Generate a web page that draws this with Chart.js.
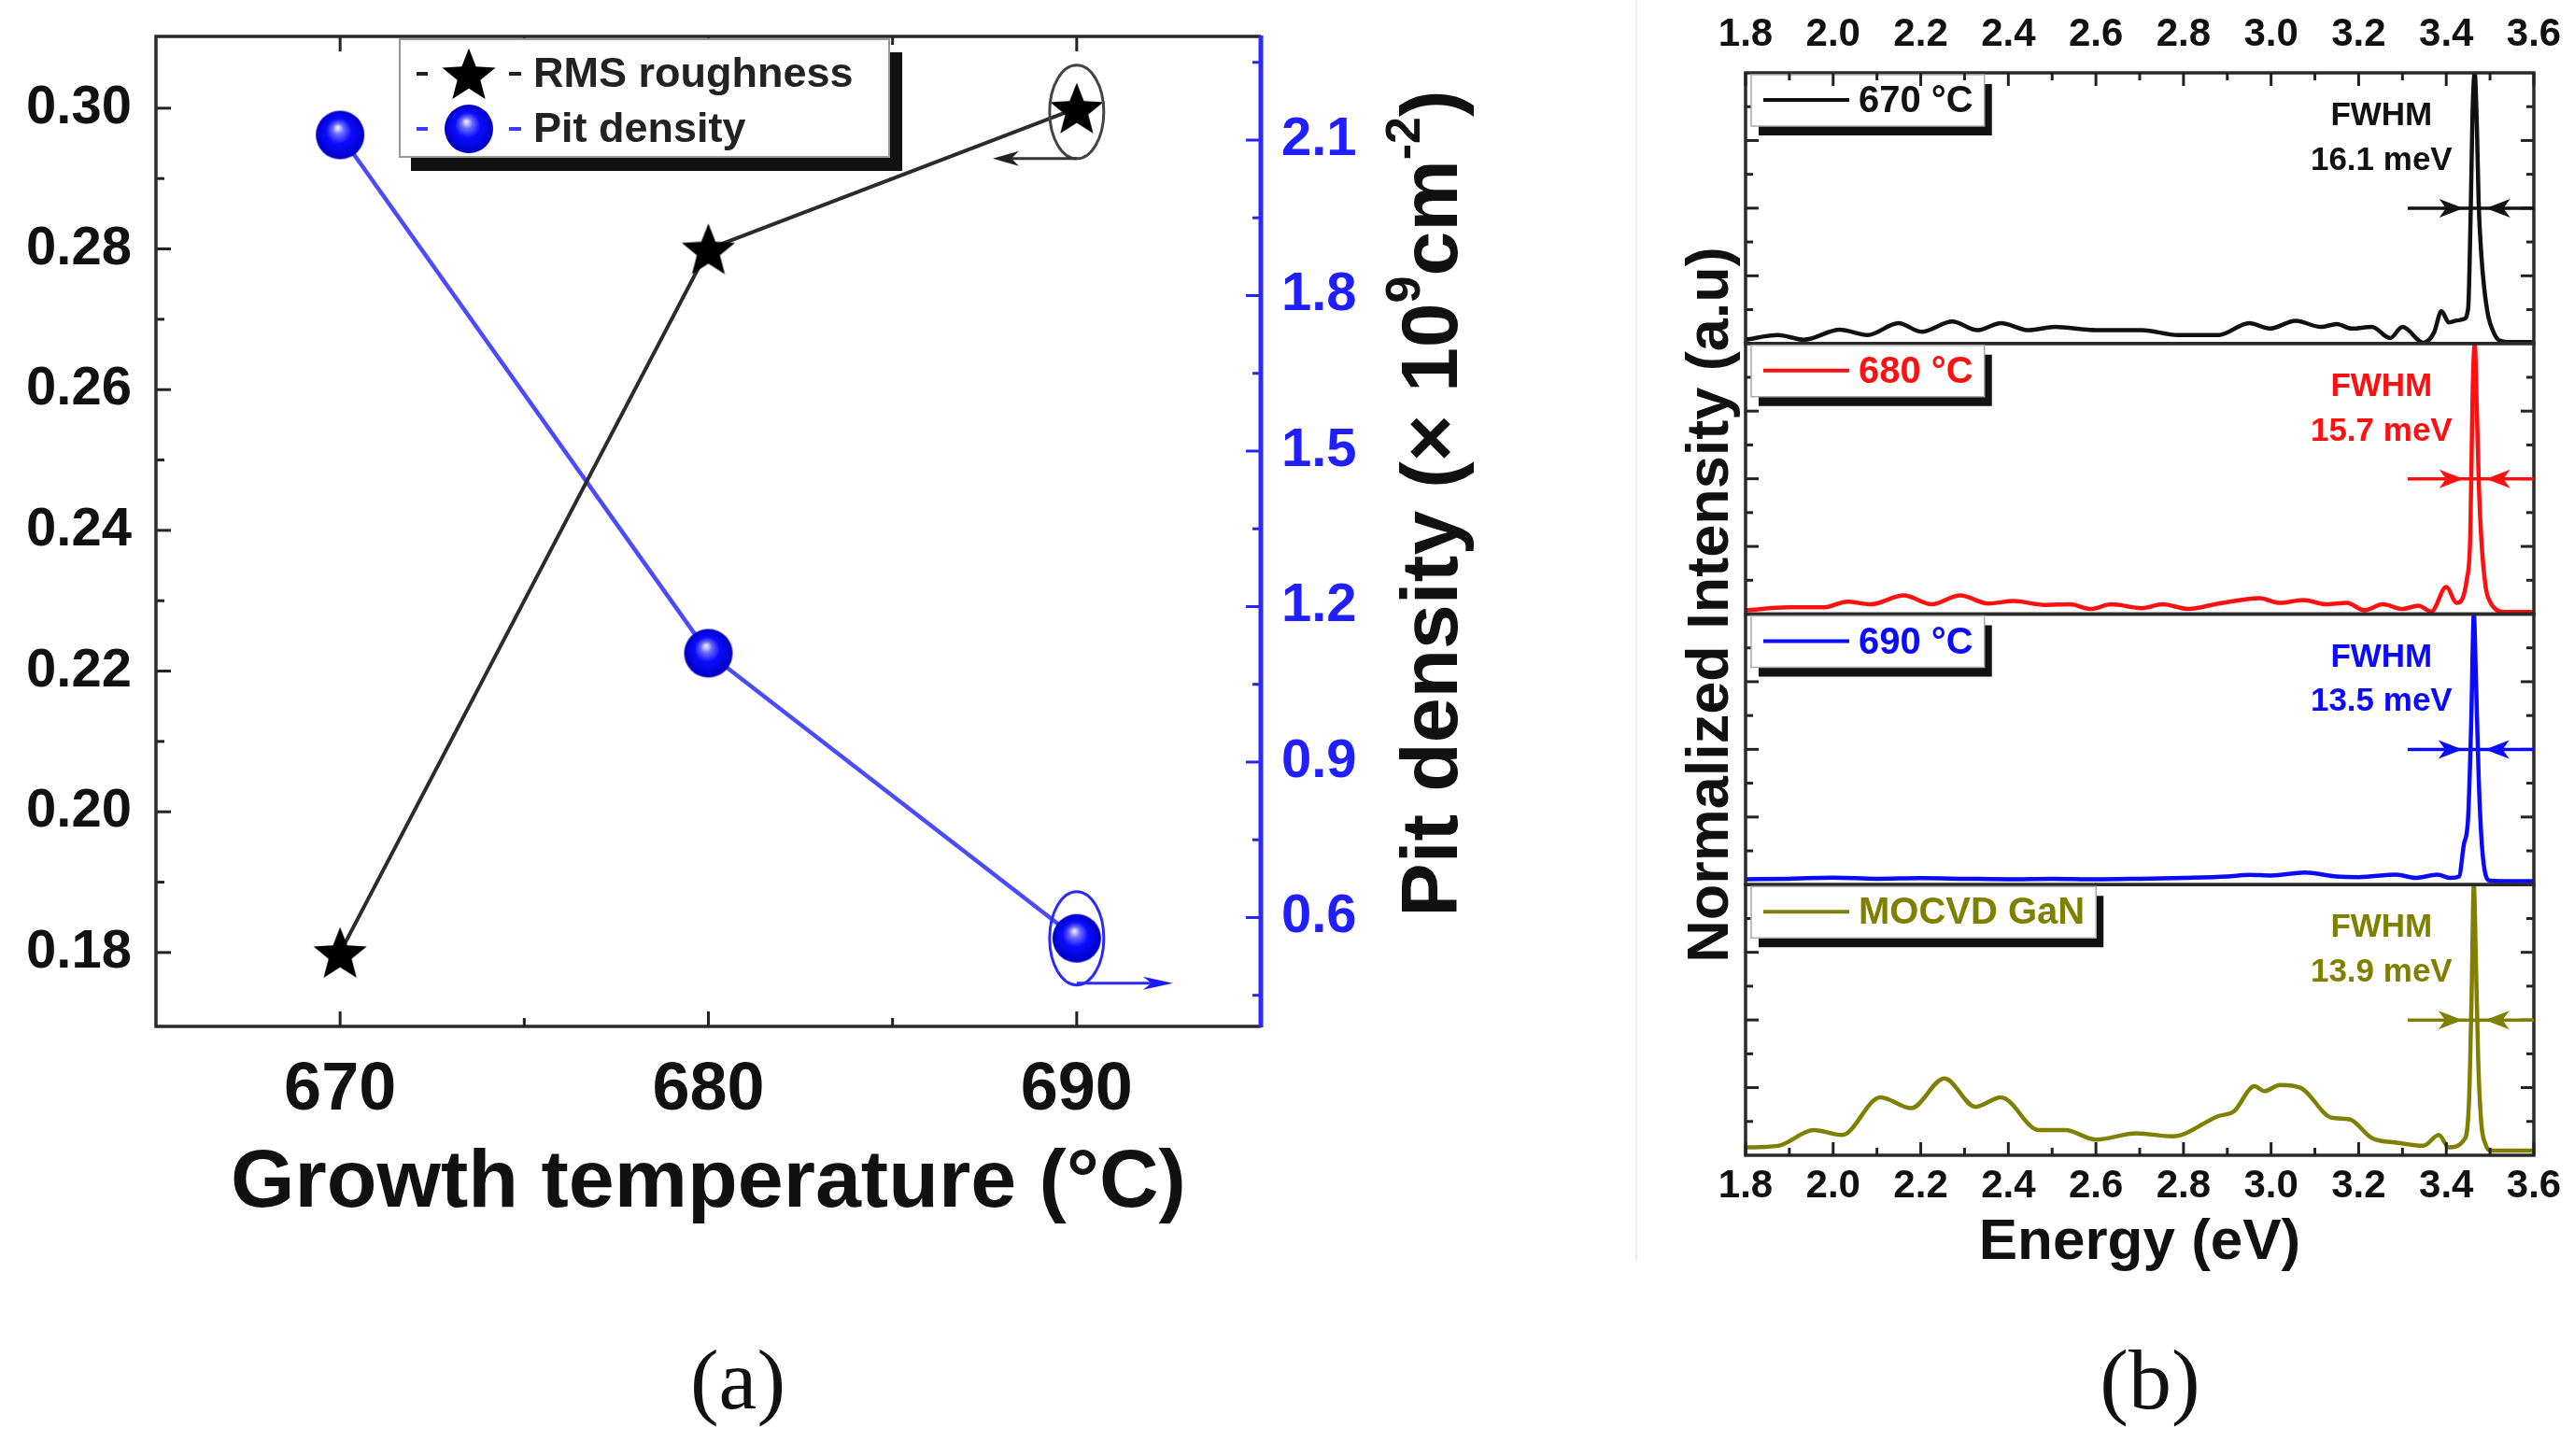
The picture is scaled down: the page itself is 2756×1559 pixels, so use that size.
<!DOCTYPE html>
<html><head><meta charset="utf-8">
<script src="https://cdn.jsdelivr.net/npm/chart.js@4.4.1/dist/chart.umd.min.js"></script>
<style>
html,body{margin:0;padding:0;background:#fff;}
body{width:2756px;height:1559px;position:relative;overflow:hidden;}
#wa{position:absolute;left:0;top:0;width:1700px;height:1340px;}
#wb{position:absolute;left:1700px;top:0;width:1056px;height:1400px;}
#sep{position:absolute;left:1751px;top:0;width:2px;height:1350px;background:#ededed;}
.cap{position:absolute;top:1427px;width:300px;text-align:center;font-family:'Liberation Serif','DejaVu Serif',serif;font-size:92px;line-height:100px;color:#111;}
</style></head><body>
<div id="wa"><canvas id="ca"></canvas></div>
<div id="sep"></div>
<div id="wb"><canvas id="cb"></canvas></div>
<div class="cap" style="left:640px">(a)</div>
<div class="cap" style="left:2152px">(b)</div>
<script>
// ---------------- Panel (a) data ----------------
const temps = [670, 680, 690];
const rmsRoughness = [0.18, 0.28, 0.30];
const pitDensity = [2.11, 1.11, 0.56];
const tempTicks = [670, 680, 690];
const tempMinorTicks = [675, 685];
const rmsTicks = [0.18, 0.20, 0.22, 0.24, 0.26, 0.28, 0.30];
const rmsMinorTicks = [0.19, 0.21, 0.23, 0.25, 0.27, 0.29];
const pitTicks = [0.6, 0.9, 1.2, 1.5, 1.8, 2.1];
const pitMinorTicks = [0.45, 0.75, 1.05, 1.35, 1.65, 1.95, 2.25];

// ---------------- Panel (b) data ----------------
const energyTicks = [1.8, 2.0, 2.2, 2.4, 2.6, 2.8, 3.0, 3.2, 3.4, 3.6];
const energyMinorTicks = [1.9, 2.1, 2.3, 2.5, 2.7, 2.9, 3.1, 3.3, 3.5];
const intensityTicks = [0.25, 0.5, 0.75];
const intensityMinorTicks = [0.125, 0.375, 0.625, 0.875];

const e670 = [1.80,1.874,1.933,2.015,2.079,2.149,2.202,2.272,2.33,2.383,2.447,2.506,2.60,2.705,2.787,2.88,2.95,2.997,3.056,3.114,3.15,3.184,3.23,3.272,3.30,3.348,3.372,3.389,3.406,3.425,3.44,3.45,3.456,3.46,3.465,3.47,3.474,3.48,3.487,3.496,3.507,3.52,3.55,3.60];
const i670 = [0.014,0.031,0.014,0.051,0.031,0.075,0.043,0.081,0.049,0.075,0.049,0.061,0.049,0.049,0.031,0.031,0.075,0.055,0.084,0.061,0.072,0.055,0.061,0.02,0.061,0.003,0.04,0.119,0.078,0.085,0.09,0.13,0.5,0.85,1.0,0.8,0.52,0.33,0.2,0.1,0.045,0.012,0.005,0.005];

const e680 = [1.80,1.898,1.98,2.032,2.085,2.161,2.225,2.29,2.354,2.412,2.482,2.541,2.588,2.635,2.705,2.752,2.81,2.88,2.974,3.02,3.073,3.126,3.173,3.213,3.255,3.30,3.336,3.366,3.40,3.424,3.447,3.455,3.46,3.465,3.47,3.474,3.48,3.49,3.50,3.512,3.53,3.60];
const i680 = [0.014,0.025,0.025,0.046,0.036,0.069,0.036,0.069,0.039,0.048,0.034,0.036,0.019,0.036,0.022,0.036,0.019,0.039,0.059,0.041,0.052,0.036,0.041,0.014,0.036,0.019,0.031,0.009,0.10,0.041,0.129,0.3,0.8,1.0,0.75,0.5,0.28,0.1,0.045,0.019,0.008,0.008];

const e690 = [1.80,1.90,2.00,2.10,2.20,2.30,2.40,2.50,2.60,2.70,2.80,2.90,2.95,3.00,3.077,3.15,3.20,3.286,3.33,3.38,3.41,3.429,3.44,3.45,3.457,3.463,3.468,3.474,3.48,3.488,3.50,3.55,3.60];
const i690 = [0.02,0.022,0.026,0.022,0.024,0.022,0.02,0.022,0.02,0.022,0.025,0.03,0.036,0.034,0.045,0.03,0.028,0.037,0.025,0.037,0.025,0.03,0.147,0.25,0.6,1.0,0.75,0.4,0.18,0.05,0.015,0.013,0.013];

const eMOCVD = [1.80,1.874,1.956,2.02,2.108,2.178,2.254,2.325,2.383,2.47,2.53,2.60,2.693,2.775,2.88,2.915,2.962,2.985,3.02,3.068,3.138,3.179,3.23,3.29,3.348,3.383,3.406,3.441,3.452,3.458,3.463,3.468,3.473,3.48,3.49,3.50,3.60];
const iMOCVD = [0.029,0.035,0.093,0.075,0.214,0.174,0.284,0.179,0.214,0.093,0.093,0.058,0.081,0.07,0.145,0.162,0.255,0.237,0.26,0.249,0.139,0.133,0.064,0.046,0.035,0.075,0.029,0.058,0.2,0.6,1.0,0.7,0.35,0.12,0.04,0.017,0.017];

const spectraLabels = ['670 \u00B0C', '680 \u00B0C', '690 \u00B0C', 'MOCVD GaN'];
const spectraColors = ['#111111', '#ff1010', '#0a0aff', '#808000'];
const fwhmValues = ['16.1 meV', '15.7 meV', '13.5 meV', '13.9 meV'];
const peakEnergies = [3.465, 3.465, 3.463, 3.463];

// ---------------- helpers ----------------
const FONT = "'Liberation Sans', Arial, Helvetica, sans-serif";
Chart.defaults.font.family = FONT;
Chart.defaults.color = '#111';

function makeStar(R, r, color) {
  const s = Math.ceil(2 * R + 4);
  const c = document.createElement('canvas'); c.width = s; c.height = s;
  const g = c.getContext('2d');
  g.translate(s / 2, s / 2 + R * 0.095);
  g.beginPath();
  for (let k = 0; k < 10; k++) {
    const ang = -Math.PI / 2 + k * Math.PI / 5;
    const rr = (k % 2) ? r : R;
    g.lineTo(rr * Math.cos(ang), rr * Math.sin(ang));
  }
  g.closePath(); g.fillStyle = color; g.fill();
  return c;
}
function makeSphere(r) {
  const s = Math.ceil(2 * r + 4);
  const c = document.createElement('canvas'); c.width = s; c.height = s;
  const g = c.getContext('2d');
  const cx = s / 2, cy = s / 2;
  const grad = g.createRadialGradient(cx - r * 0.1, cy - r * 0.3, r * 0.04, cx, cy, r);
  grad.addColorStop(0, '#e4e4ff');
  grad.addColorStop(0.2, '#6a6aff');
  grad.addColorStop(0.5, '#0c0cff');
  grad.addColorStop(1, '#0000c4');
  g.fillStyle = grad; g.beginPath(); g.arc(cx, cy, r, 0, Math.PI * 2); g.fill();
  return c;
}
const starImg = makeStar(30, 13, '#000');
const sphereImg = makeSphere(26);

function seg(ctx, x1, y1, x2, y2) { ctx.beginPath(); ctx.moveTo(x1, y1); ctx.lineTo(x2, y2); ctx.stroke(); }
function arrowHead(ctx, tx, ty, dir, len, hw) {
  ctx.beginPath();
  ctx.moveTo(tx, ty);
  ctx.lineTo(tx - dir * len, ty - hw);
  ctx.lineTo(tx - dir * len * 0.72, ty);
  ctx.lineTo(tx - dir * len, ty + hw);
  ctx.closePath(); ctx.fill();
}
const setTicks = arr => s => { s.ticks = arr.map(v => ({ value: v })); };
const fitW = w => s => { s.width = w; s.paddingTop = 0; s.paddingBottom = 0; };
const fitH = h => s => { s.height = h; s.paddingLeft = 0; s.paddingRight = 0; };

// ---------------- Panel (a) plugin ----------------
const plugA = {
  id: 'plugA',
  afterDraw(chart) {
    const { ctx, chartArea: a, scales } = chart;
    const xs = scales.x, yl = scales.y, yr = scales.y2;
    ctx.save();
    ctx.lineCap = 'butt';
    // ticks
    ctx.strokeStyle = '#222'; ctx.lineWidth = 3;
    rmsTicks.forEach(v => { const p = yl.getPixelForValue(v); seg(ctx, a.left, p, a.left + 16, p); });
    rmsMinorTicks.forEach(v => { const p = yl.getPixelForValue(v); seg(ctx, a.left, p, a.left + 9, p); });
    tempTicks.forEach(v => { const p = xs.getPixelForValue(v); seg(ctx, p, a.bottom, p, a.bottom - 16); seg(ctx, p, a.top, p, a.top + 16); });
    tempMinorTicks.forEach(v => { const p = xs.getPixelForValue(v); seg(ctx, p, a.bottom, p, a.bottom - 9); seg(ctx, p, a.top, p, a.top + 9); });
    ctx.strokeStyle = '#2424ff';
    pitTicks.forEach(v => { const p = yr.getPixelForValue(v); seg(ctx, a.right, p, a.right - 16, p); });
    pitMinorTicks.forEach(v => { const p = yr.getPixelForValue(v); seg(ctx, a.right, p, a.right - 9, p); });
    // frame
    ctx.strokeStyle = '#2a2a2a'; ctx.lineWidth = 3.5;
    ctx.beginPath(); ctx.moveTo(a.right, a.top); ctx.lineTo(a.left, a.top); ctx.lineTo(a.left, a.bottom); ctx.lineTo(a.right, a.bottom); ctx.stroke();
    ctx.strokeStyle = '#2a2aff'; ctx.lineWidth = 5;
    seg(ctx, a.right, a.top - 1, a.right, a.bottom + 1);

    // annotation: ellipse around last RMS point with arrow to left axis
    const px = xs.getPixelForValue(temps[2]);
    const sy = yl.getPixelForValue(rmsRoughness[2]) + 4;
    ctx.strokeStyle = '#444'; ctx.lineWidth = 3;
    ctx.beginPath(); ctx.ellipse(px, sy, 29, 50, 0, 0, Math.PI * 2); ctx.stroke();
    ctx.strokeStyle = '#333'; ctx.fillStyle = '#222'; ctx.lineWidth = 3;
    seg(ctx, px, sy + 50, px - 70, sy + 50);
    arrowHead(ctx, px - 90, sy + 50, -1, 28, 8);
    // annotation: ellipse around last pit point with arrow to right axis
    const by = yr.getPixelForValue(pitDensity[2]);
    ctx.strokeStyle = '#2a2aff'; ctx.fillStyle = '#1a1aff'; ctx.lineWidth = 3;
    ctx.beginPath(); ctx.ellipse(px, by, 29, 50, 0, 0, Math.PI * 2); ctx.stroke();
    seg(ctx, px, by + 48, px + 80, by + 48);
    arrowHead(ctx, px + 103, by + 48, 1, 32, 7);

    // legend
    const lx = a.left + 261, ly = a.top + 3, lw = 524, lh = 126;
    ctx.fillStyle = '#111'; ctx.fillRect(lx + 12, ly + 14, lw + 2, lh + 1);
    ctx.fillStyle = '#fff'; ctx.fillRect(lx, ly, lw, lh);
    ctx.strokeStyle = '#999'; ctx.lineWidth = 2; ctx.strokeRect(lx, ly, lw, lh);
    const rows = [{ y: ly + 37, img: starImg, col: '#222' }, { y: ly + 96, img: sphereImg, col: '#3c3cff' }];
    chart.data.datasets.forEach((ds, k) => {
      const r = rows[k];
      ctx.strokeStyle = r.col; ctx.lineWidth = 4;
      seg(ctx, lx + 18, r.y, lx + 30, r.y);
      seg(ctx, lx + 117, r.y, lx + 130, r.y);
      ctx.drawImage(r.img, lx + 74 - r.img.width / 2, r.y - r.img.height / 2);
      ctx.fillStyle = '#222'; ctx.font = 'bold 45px ' + FONT; ctx.textAlign = 'left'; ctx.textBaseline = 'middle';
      ctx.fillText(ds.label, lx + 143, r.y + 2);
    });

    // right axis title (reads bottom to top)
    ctx.translate(a.right + 210, (a.top + a.bottom) / 2 - 30);
    ctx.rotate(-Math.PI / 2);
    ctx.fillStyle = '#111'; ctx.textBaseline = 'alphabetic'; ctx.textAlign = 'left';
    const parts = [
      { t: 'Pit density (\u00D7 10', s: 86, dy: 0 },
      { t: '9', s: 52, dy: -40 },
      { t: 'cm', s: 86, dy: 0 },
      { t: '-2', s: 52, dy: -40 },
      { t: ')', s: 86, dy: 0 }
    ];
    let total = 0;
    parts.forEach(p => { ctx.font = 'bold ' + p.s + 'px ' + FONT; p.w = ctx.measureText(p.t).width; total += p.w; });
    let cx = -total / 2;
    parts.forEach(p => { ctx.font = 'bold ' + p.s + 'px ' + FONT; ctx.fillText(p.t, cx, p.dy); cx += p.w; });
    ctx.restore();
  }
};

new Chart(document.getElementById('ca'), {
  type: 'line',
  data: {
    datasets: [
      { label: 'RMS roughness', data: temps.map((t, i) => ({ x: t, y: rmsRoughness[i] })), xAxisID: 'x', yAxisID: 'y',
        borderColor: '#2b2b2b', borderWidth: 4, pointStyle: starImg, pointRadius: 28, tension: 0, fill: false },
      { label: 'Pit density', data: temps.map((t, i) => ({ x: t, y: pitDensity[i] })), xAxisID: 'x', yAxisID: 'y2',
        borderColor: '#4a4aff', borderWidth: 4.5, pointStyle: sphereImg, pointRadius: 26, tension: 0, fill: false }
    ]
  },
  options: {
    responsive: true, maintainAspectRatio: false, animation: false, devicePixelRatio: 1,
    layout: { padding: { top: 39, left: 0, right: 0, bottom: 0 } },
    plugins: { legend: { display: false }, tooltip: { enabled: false } },
    scales: {
      x: {
        type: 'linear', position: 'bottom', min: 665, max: 695,
        afterBuildTicks: setTicks(tempTicks), afterFit: fitH(241),
        grid: { display: false, drawTicks: false }, border: { display: false },
        ticks: { font: { size: 72, weight: 'bold' }, color: '#111', padding: 26, maxRotation: 0, autoSkip: false, callback: v => String(v) },
        title: { display: true, text: 'Growth temperature (\u00B0C)', font: { size: 88, weight: 'bold' }, color: '#111', padding: { top: 0, bottom: 19 } }
      },
      y: {
        type: 'linear', position: 'left', min: 0.1695, max: 0.3102,
        afterBuildTicks: setTicks(rmsTicks), afterFit: fitW(167),
        grid: { display: false, drawTicks: false }, border: { display: false },
        ticks: { font: { size: 58, weight: 'bold' }, color: '#111', padding: 26, autoSkip: false, callback: v => v.toFixed(2) }
      },
      y2: {
        type: 'linear', position: 'right', min: 0.39, max: 2.30,
        afterBuildTicks: setTicks(pitTicks), afterFit: fitW(350),
        grid: { display: false, drawTicks: false }, border: { display: false },
        ticks: { font: { size: 58, weight: 'bold' }, color: '#2020ff', padding: 22, autoSkip: false, callback: v => v.toFixed(1) }
      }
    }
  },
  plugins: [plugA]
});

// ---------------- Panel (b) ----------------
const subIds = ['y670', 'y680', 'y690', 'yMOCVD'];
const energies = [e670, e680, e690, eMOCVD];
const intensities = [i670, i680, i690, iMOCVD];

const plugB = {
  id: 'plugB',
  afterDraw(chart) {
    const { ctx, chartArea: a, scales } = chart;
    const xs = scales.x;
    ctx.save();
    ctx.lineCap = 'butt';
    subIds.forEach((id, k) => {
      const ys = scales[id];
      const col = chart.data.datasets[k].borderColor;
      ctx.strokeStyle = '#222'; ctx.lineWidth = 3;
      intensityTicks.forEach(v => { const p = ys.getPixelForValue(v); seg(ctx, a.left, p, a.left + 14, p); seg(ctx, a.right, p, a.right - 14, p); });
      intensityMinorTicks.forEach(v => { const p = ys.getPixelForValue(v); seg(ctx, a.left, p, a.left + 8, p); seg(ctx, a.right, p, a.right - 8, p); });
      ctx.strokeStyle = '#2a2a2a'; ctx.lineWidth = 3.5;
      ctx.strokeRect(a.left, ys.top, a.right - a.left, ys.bottom - ys.top);
      // legend box
      ctx.font = 'bold 40px ' + FONT;
      const label = chart.data.datasets[k].label;
      const tw = ctx.measureText(label).width;
      const bx = a.left + 6, bt = ys.top + 2, bw = 13 + 92 + 10 + tw + 12, bh = 55;
      ctx.fillStyle = '#111'; ctx.fillRect(bx + 8, bt + 10, bw, bh);
      ctx.fillStyle = '#fff'; ctx.fillRect(bx, bt, bw, bh);
      ctx.strokeStyle = '#aaa'; ctx.lineWidth = 1.5; ctx.strokeRect(bx, bt, bw, bh);
      ctx.strokeStyle = col; ctx.lineWidth = 4;
      seg(ctx, bx + 13, bt + 27, bx + 105, bt + 27);
      ctx.fillStyle = col; ctx.textAlign = 'left'; ctx.textBaseline = 'middle';
      ctx.fillText(label, bx + 115, bt + 29);
      // FWHM annotation
      ctx.font = 'bold 35px ' + FONT; ctx.textAlign = 'center';
      const tx = xs.getPixelForValue(3.252);
      ctx.fillText('FWHM', tx, ys.getPixelForValue(0.84));
      ctx.fillText(fwhmValues[k], tx, ys.getPixelForValue(0.675));
      const hy = ys.getPixelForValue(0.5);
      const pk = xs.getPixelForValue(peakEnergies[k]);
      ctx.strokeStyle = col; ctx.lineWidth = 3.5;
      seg(ctx, xs.getPixelForValue(3.312), hy, a.right, hy);
      arrowHead(ctx, pk - 12, hy, 1, 26, 10);
      arrowHead(ctx, pk + 12, hy, -1, 26, 10);
    });
    ctx.strokeStyle = '#222'; ctx.lineWidth = 3;
    energyTicks.forEach(v => { const p = xs.getPixelForValue(v); seg(ctx, p, a.top, p, a.top + 14); seg(ctx, p, a.bottom, p, a.bottom - 14); });
    energyMinorTicks.forEach(v => { const p = xs.getPixelForValue(v); seg(ctx, p, a.top, p, a.top + 8); seg(ctx, p, a.bottom, p, a.bottom - 8); });
    // left title
    ctx.translate(150, (a.top + a.bottom) / 2 - 10);
    ctx.rotate(-Math.PI / 2);
    ctx.fillStyle = '#111'; ctx.font = 'bold 63px ' + FONT; ctx.textAlign = 'center'; ctx.textBaseline = 'alphabetic';
    ctx.fillText('Normalized Intensity (a.u)', 0, 0);
    ctx.restore();
  }
};

const scalesB = {
  x: {
    type: 'linear', position: 'bottom', min: 1.8, max: 3.6,
    afterBuildTicks: setTicks(energyTicks), afterFit: fitH(163),
    grid: { display: false, drawTicks: false }, border: { display: false },
    ticks: { font: { size: 42, weight: 'bold' }, color: '#111', padding: 8, maxRotation: 0, autoSkip: false, callback: v => v.toFixed(1) },
    title: { display: true, text: 'Energy (eV)', font: { size: 62, weight: 'bold' }, color: '#111', padding: { top: 0, bottom: 32 } }
  },
  x2: {
    type: 'linear', position: 'top', min: 1.8, max: 3.6,
    afterBuildTicks: setTicks(energyTicks), afterFit: fitH(78),
    grid: { display: false, drawTicks: false }, border: { display: false },
    ticks: { font: { size: 42, weight: 'bold' }, color: '#111', padding: 15, maxRotation: 0, autoSkip: false, callback: v => v.toFixed(1) }
  }
};
subIds.forEach((id, k) => {
  scalesB[id] = {
    type: 'linear', position: 'left', stack: 'spectra', stackWeight: 1, weight: 4 - k,
    min: 0, max: 1,
    afterFit: fitW(169),
    grid: { display: false, drawTicks: false }, border: { display: false },
    ticks: { display: false }
  };
});

new Chart(document.getElementById('cb'), {
  type: 'line',
  data: {
    datasets: subIds.map((id, k) => ({
      label: spectraLabels[k],
      data: energies[k].map((e, i) => ({ x: e, y: intensities[k][i] })),
      xAxisID: 'x', yAxisID: id,
      borderColor: spectraColors[k], borderWidth: 4.5, pointRadius: 0,
      cubicInterpolationMode: 'monotone', fill: false
    }))
  },
  options: {
    responsive: true, maintainAspectRatio: false, animation: false, devicePixelRatio: 1,
    layout: { padding: { top: 0, left: 0, right: 43, bottom: 0 } },
    plugins: { legend: { display: false }, tooltip: { enabled: false } },
    scales: scalesB
  },
  plugins: [plugB]
});
</script>
</body></html>
